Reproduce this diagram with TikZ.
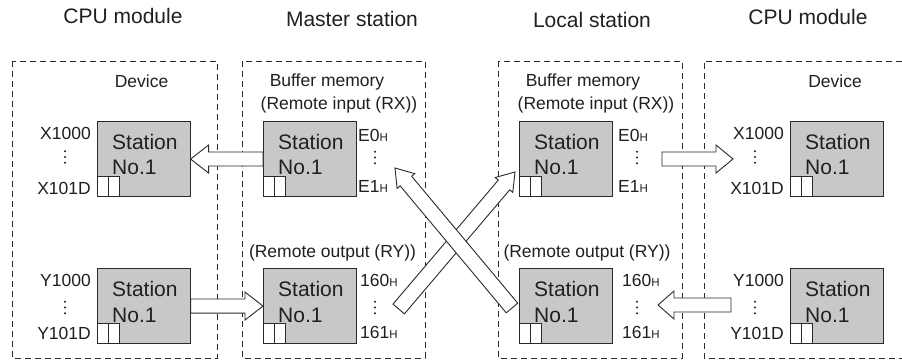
\documentclass[tikz,border=0pt]{standalone}
\usepackage{fontspec}
\setmainfont{Liberation Sans}
\usetikzlibrary{calc}
\definecolor{txt}{HTML}{231F20}
\definecolor{stgray}{HTML}{C8C8C8}
\definecolor{ln}{HTML}{2A2A2A}
\tikzset{
 dbox/.style={draw=ln, dash pattern=on 6pt off 4pt, line width=0.9pt},
 stbox/.style={draw=ln, fill=stgray, line width=1.1pt, minimum width=92.5pt, minimum height=75pt, inner sep=0pt, anchor=north west},
 cell/.style={draw=ln, fill=white, line width=0.9pt, minimum width=10.5pt, minimum height=20pt, inner sep=0pt, anchor=south west},
 title/.style={text=txt, font=\fontsize{21}{25}\selectfont, inner sep=0pt, anchor=base},
 lbl/.style={text=txt, font=\fontsize{17.5}{21}\selectfont, inner sep=0pt},
 sttxt/.style={text=txt, font=\fontsize{21}{25}\selectfont, inner sep=0pt, anchor=base west},
 fat/.style={draw=ln, fill=white, line width=0.9pt, line join=miter},
 vdot/.style={fill=txt, circle, inner sep=0pt, minimum size=2.2pt},
}
\newcommand\stn[3]{%
 \node[stbox] (#1) at (#2,#3) {};
 \node[cell] (#1-a) at (#1.south west) {};
 \node[cell] (#1-b) at (#1-a.south east) {};
 \node[sttxt] (#1-t1) at ($(#1.north west)+(15,29)$) {Station};
 \node[sttxt] (#1-t2) at ($(#1.north west)+(15,54)$) {No.1};
}
\newcommand\vdts[3]{%
 \node[vdot] (#1-1) at (#2,#3-5.7) {};
 \node[vdot] (#1-2) at (#2,#3) {};
 \node[vdot] (#1-3) at (#2,#3+5.7) {};
}
\newcommand\hx{{\fontsize{11.5}{12}\selectfont H}}
\newcommand\fatarrow[5]{%
 \draw[fat] let \p1=(#1), \p2=(#2), \n1={atan2(\y2-\y1,\x2-\x1)}, \n2={veclen(\x2-\x1,\y2-\y1)} in
  ($(\p1)+(\n1+90:#3pt)$)
  -- ($(\p1)+(\n1:{\n2*1pt-#5pt})+(\n1+90:#3pt)$)
  -- ($(\p1)+(\n1:{\n2*1pt-#5pt})+(\n1+90:#4pt)$)
  -- (\p2)
  -- ($(\p1)+(\n1:{\n2*1pt-#5pt})+(\n1-90:#4pt)$)
  -- ($(\p1)+(\n1:{\n2*1pt-#5pt})+(\n1-90:#3pt)$)
  -- ($(\p1)+(\n1-90:#3pt)$) -- cycle;
}
\begin{document}
\begin{tikzpicture}[x=1pt,y=-1pt]
\useasboundingbox[fill=white] (0,0) rectangle (902,363);
% titles
\node[title] (t1) at (123,24) {CPU module};
\node[title] (t2) at (352,27) {Master station};
\node[title] (t3) at (592,28) {Local station};
\node[title] (t4) at (808,25) {CPU module};
% dashed boxes
\draw[dbox] (12,61) rectangle (217,358);
\draw[dbox] (242,61) rectangle (425,358);
\draw[dbox] (498,61) rectangle (682,358);
\draw[dbox] (902,61) -- (704,61) -- (704,358) -- (902,358);
% inner headings
\node[lbl, anchor=base] (dv1) at (141.5,88) {Device};
\node[lbl, anchor=base] (dv2) at (835,88) {Device};
\node[lbl, anchor=base] (bm1) at (327,87) {Buffer memory};
\node[lbl, anchor=base] (ri1) at (339,110) {(Remote input (RX))};
\node[lbl, anchor=base] (bm2) at (583,87) {Buffer memory};
\node[lbl, anchor=base] (ri2) at (596,110) {(Remote input (RX))};
\node[lbl, anchor=base] (ro1) at (332.5,258) {(Remote output (RY))};
\node[lbl, anchor=base] (ro2) at (587,258) {(Remote output (RY))};
% stations
\stn{cLx}{97}{121}
\stn{cLy}{97}{268}
\stn{mX}{263}{121}
\stn{mY}{263}{268}
\stn{lX}{519}{121}
\stn{lY}{519}{268}
\stn{cRx}{790}{121}
\stn{cRy}{790}{268}
% device labels left
\node[lbl, anchor=base east] (xa1) at (91,140) {X1000};
\vdts{xd1}{65}{157}
\node[lbl, anchor=base east] (xb1) at (91,195) {X101D};
\node[lbl, anchor=base east] (ya1) at (91,287) {Y1000};
\vdts{yd1}{65}{307.5}
\node[lbl, anchor=base east] (yb1) at (91,339) {Y101D};
% device labels right
\node[lbl, anchor=base east] (xa2) at (784,140) {X1000};
\vdts{xd2}{755}{157}
\node[lbl, anchor=base east] (xb2) at (784,195) {X101D};
\node[lbl, anchor=base east] (ya2) at (784,287) {Y1000};
\vdts{yd2}{755}{307.5}
\node[lbl, anchor=base east] (yb2) at (784,339) {Y101D};
% buffer addresses master
\node[lbl, anchor=base west] (e01) at (358,142) {E0\hx};
\vdts{ed1}{375}{157.5}
\node[lbl, anchor=base west] (e11) at (358,193) {E1\hx};
\node[lbl, anchor=base west] (h01) at (360,287) {160\hx};
\vdts{hd1}{375}{307.5}
\node[lbl, anchor=base west] (h11) at (360,338) {161\hx};
% buffer addresses local
\node[lbl, anchor=base west] (e02) at (618,142) {E0\hx};
\vdts{ed2}{637}{157.5}
\node[lbl, anchor=base west] (e12) at (618,193) {E1\hx};
\node[lbl, anchor=base west] (h02) at (622,287) {160\hx};
\vdts{hd2}{637}{307.5}
\node[lbl, anchor=base west] (h12) at (622,338) {161\hx};
% arrow end points
\coordinate (r1t) at (662,159);
\coordinate (r1h) at (733,159);
\coordinate (r2t) at (731,305);
\coordinate (r2h) at (658,305);
\coordinate (d1t) at (398.7,309);
\coordinate (d1h) at (515,172);
\coordinate (d2t) at (512,308);
\coordinate (d2h) at (395,168);
% arrows
\fatarrow{mX.west}{cLx.east}{7}{14}{18}
\fatarrow{cLy.east}{mY.west}{7}{14}{18}
\fatarrow{r1t}{r1h}{7}{14}{17}
\fatarrow{r2t}{r2h}{7}{14}{16}
\fatarrow{d1t}{d1h}{7.5}{11.5}{17}
\fatarrow{d2t}{d2h}{7.5}{11.5}{17}
\end{tikzpicture}
\end{document}
